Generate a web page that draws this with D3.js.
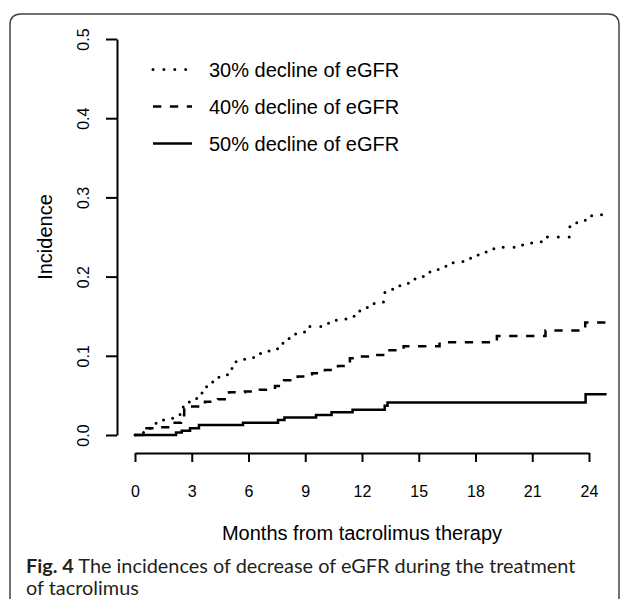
<!DOCTYPE html>
<html>
<head>
<meta charset="utf-8">
<script src="https://cdn.jsdelivr.net/npm/d3@7"></script>
<style>
  body { margin: 0; background: #fff; }
  svg { display: block; }
</style>
</head>
<body>
<svg id="chart" width="627" height="599"></svg>
<script>
// months from tacrolimus start (step times) and cumulative incidence
var months30 = [0, 0.44, 0.76, 1.06, 1.41, 1.99, 2.38, 2.55, 2.87, 3.26, 3.65, 3.93, 4.32, 4.67, 4.98, 5.2, 5.64, 6.04, 6.43, 6.83, 7.31, 7.58, 7.93, 8.28, 8.68, 8.98, 9.87, 10.3, 11.15, 11.63, 11.98, 12.28, 12.77, 13.21, 13.62, 14.0, 14.45, 14.8, 15.24, 15.59, 16.03, 16.82, 17.74, 18.14, 18.97, 20.49, 20.97, 21.79, 22.99, 23.35, 23.78, 24.14, 24.93]
var inc30 = [0, 0.003, 0.0084, 0.0147, 0.019, 0.025, 0.0316, 0.036, 0.045, 0.053, 0.061, 0.067, 0.073, 0.076, 0.084, 0.0926, 0.0955, 0.098, 0.103, 0.106, 0.109, 0.116, 0.122, 0.1275, 0.13, 0.137, 0.141, 0.145, 0.15, 0.1566, 0.16, 0.166, 0.168, 0.183, 0.187, 0.1915, 0.196, 0.2, 0.205, 0.209, 0.213, 0.219, 0.225, 0.231, 0.237, 0.242, 0.244, 0.25, 0.263, 0.268, 0.271, 0.278, 0.278]

var months40 = [0, 0.53, 1.32, 1.96, 2.43, 2.6, 2.9, 3.7, 4.39, 4.97, 5.81, 6.6, 7.4, 7.88, 8.6, 9.36, 10.04, 10.73, 11.36, 11.68, 12.68, 13.3, 14.2, 16.1, 19.13, 21.7, 23.8, 24.93]
var inc40 = [0, 0.0084, 0.0097, 0.0155, 0.025, 0.034, 0.036, 0.042, 0.045, 0.054, 0.055, 0.057, 0.062, 0.069, 0.074, 0.078, 0.082, 0.087, 0.097, 0.099, 0.101, 0.107, 0.112, 0.117, 0.125, 0.132, 0.142, 0.142]

var months50 = [0, 2.17, 2.47, 2.91, 3.38, 5.71, 7.56, 7.9, 9.57, 10.39, 11.5, 13.2, 13.35, 23.82, 24.93]
var inc50 = [0, 0.003, 0.0055, 0.0085, 0.0126, 0.0155, 0.019, 0.022, 0.0253, 0.0287, 0.032, 0.037, 0.041, 0.0514, 0.0514]

var legendLabels = ['30% decline of eGFR', '40% decline of eGFR', '50% decline of eGFR']
var xTicks = [0, 3, 6, 9, 12, 15, 18, 21, 24]
var yTicks = [0, 0.1, 0.2, 0.3, 0.4, 0.5]
var xTitle = 'Months from tacrolimus therapy'
var yTitle = 'Incidence'
var captionBold = 'Fig. 4'
var captionLine1 = ' The incidences of decrease of eGFR during the treatment'
var captionLine2 = 'of tacrolimus'

var svg = d3.select('svg#chart')
var font = '"Liberation Sans", Arial, sans-serif'

svg.append('rect').attr('width', 627).attr('height', 599).attr('fill', '#fff')

// frame round the figure (open at the bottom)
svg.append('path')
  .attr('d', 'M10,599 V25 Q10,14 21,14 H608 Q619,14 619,25 V599')
  .attr('fill', 'none')
  .attr('stroke', '#444')
  .attr('stroke-width', 1.5)

var x = d3.scaleLinear().domain([0, 24]).range([135, 589])
var y = d3.scaleLinear().domain([0, 0.5]).range([435, 39])

// y axis
var gy = svg.append('g')
  .attr('transform', 'translate(117,0)')
  .call(d3.axisLeft(y).tickValues(yTicks).tickSize(11).tickSizeOuter(0).tickFormat(d3.format('.1f')))
gy.selectAll('path, line').attr('stroke', '#000').attr('stroke-width', 2)
gy.selectAll('text')
  .attr('x', 0).attr('y', 0).attr('dy', '0.35em')
  .attr('transform', 'translate(-34,0) rotate(-90)')
  .attr('text-anchor', 'middle')
  .attr('font-family', font).attr('font-size', 16).attr('fill', '#000')

// x axis
var gx = svg.append('g')
  .attr('transform', 'translate(0,453)')
  .call(d3.axisBottom(x).tickValues(xTicks).tickSize(9).tickSizeOuter(0).tickFormat(d3.format('d')))
gx.selectAll('path, line').attr('stroke', '#000').attr('stroke-width', 2)
gx.selectAll('text')
  .attr('y', 38).attr('dy', '0.35em')
  .attr('font-family', font).attr('font-size', 16).attr('fill', '#000')

svg.append('text')
  .attr('x', 362).attr('y', 533).attr('dy', '0.35em')
  .attr('text-anchor', 'middle')
  .attr('font-family', font).attr('font-size', 20)
  .text(xTitle)

svg.append('text')
  .attr('transform', 'translate(45,237) rotate(-90)')
  .attr('dy', '0.35em')
  .attr('text-anchor', 'middle')
  .attr('font-family', font).attr('font-size', 20)
  .text(yTitle)

// curves
var series = [
  {months: months30, inc: inc30, dash: '0,10.9', width: 3, cap: 'round'},
  {months: months40, inc: inc40, dash: '8.3,8.6', width: 2.5, cap: 'butt'},
  {months: months50, inc: inc50, dash: null, width: 2.5, cap: 'butt'}
]

var line = d3.line()
  .x(function(d){ return x(d[0]) })
  .y(function(d){ return y(d[1]) })
  .curve(d3.curveStepAfter)

series.forEach(function(s){
  var pts = s.months.map(function(m, i){ return [m, s.inc[i]] })
  svg.append('path')
    .attr('d', line(pts))
    .attr('fill', 'none')
    .attr('stroke', '#000')
    .attr('stroke-width', s.width)
    .attr('stroke-linecap', s.cap)
    .attr('stroke-dasharray', s.dash)
})

// legend
var legendY = [69.5, 106.5, 143.5]
series.forEach(function(s, i){
  svg.append('line')
    .attr('x1', 153).attr('x2', 192)
    .attr('y1', legendY[i]).attr('y2', legendY[i])
    .attr('stroke', '#000')
    .attr('stroke-width', s.width)
    .attr('stroke-linecap', s.cap)
    .attr('stroke-dasharray', s.dash)
  svg.append('text')
    .attr('x', 209).attr('y', legendY[i]).attr('dy', '0.35em')
    .attr('font-family', font).attr('font-size', 20)
    .text(legendLabels[i])
})

// caption
var cap = svg.append('text')
  .attr('x', 26).attr('y', 573)
  .attr('font-family', 'Lato, "Open Sans", sans-serif')
  .attr('font-size', 20)
  .attr('fill', '#231f20')
cap.append('tspan').attr('font-weight', 'bold').text(captionBold)
cap.append('tspan').text(captionLine1)
var w = cap.node().getComputedTextLength()
var capSize = 20 * 550 / w
cap.attr('font-size', capSize)

svg.append('text')
  .attr('x', 26).attr('y', 595)
  .attr('font-family', 'Lato, "Open Sans", sans-serif')
  .attr('font-size', capSize)
  .attr('fill', '#231f20')
  .text(captionLine2)
</script>
</body>
</html>
